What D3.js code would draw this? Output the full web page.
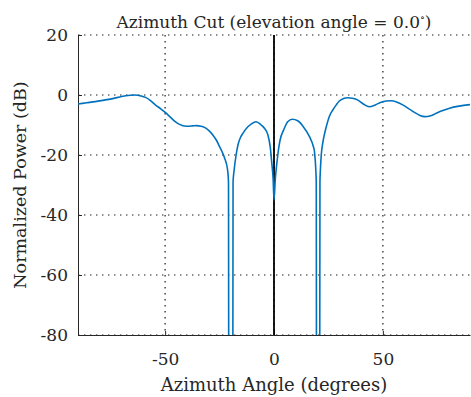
<!DOCTYPE html>
<html>
<head>
    <title>Azimuth Cut</title>
    <script src="https://cdnjs.cloudflare.com/ajax/libs/d3/7.8.5/d3.min.js"></script>
    <style>
        body {
            margin: 0;
            background: #fff;
        }

        text {
            font-family: "DejaVu Serif", serif;
            fill: #262626;
        }

        .grid line {
            stroke: #1a1a1a;
            stroke-width: 1.2px;
            stroke-dasharray: 1.4, 4.6;
        }

        .axis path,
        .axis line {
            stroke: #262626;
            stroke-width: 1px;
        }

        .pattern {
            fill: none;
            stroke: #0072BD;
            stroke-width: 1.6px;
        }
    </style>
</head>
<body>
<svg id="chart"></svg>

<script>
    // azimuth angle (deg) and normalized power (dB)
    const azimuth = [
        -90, -86, -82, -78, -74, -70, -66, -64, -61, -59,
        -57, -54.5, -52, -49.8, -48, -45.5, -43.4, -40.3, -37.5, -35.7,
        -33.5, -31.9, -30, -28.1, -26.5, -25, -23.8, -22.7, -21.3, -20.9,
        -20.7, -19.0, -18.8, -18.3, -17.4, -16.5, -15.3, -14.3, -12.0, -10.5,
        -8.2, -5.9, -4.4, -2.8, -1.7, -1.0, -0.4, 0, 0.6, 1.3,
        2.0, 2.8, 4.4, 6.3, 8.4, 10.9, 13.2, 16.3, 18.0, 18.6,
        19.2, 19.4, 19.6, 20.9, 21.1, 21.3, 21.7, 22.5, 23.2, 24,
        25.5, 27, 28.6, 30, 31.9, 33.9, 36, 38.5, 41, 43.8,
        46.5, 49.2, 51.5, 53.8, 56.5, 59.1, 62, 64.5, 67, 69.1,
        72, 74.5, 77.5, 80.6, 85, 90
    ];
    const powerDb = [
        -3.0, -2.6, -2.2, -1.7, -1.2, -0.5, -0.1, 0.0, -0.3, -0.8,
        -1.7, -3.3, -4.6, -5.9, -7.1, -8.8, -9.8, -10.4, -10.3, -10.2,
        -10.4, -10.8, -11.8, -13.3, -15.0, -17.2, -19.0, -21.0, -25, -29,
        -150, -150, -29, -25, -20, -16.5, -14, -12.8, -10.6, -9.7,
        -8.9, -10, -11.1, -13.3, -17.5, -22.8, -28, -35, -28, -22.8,
        -18.5, -15, -11.7, -8.9, -8.1, -8.6, -10.3, -13.9, -17, -19,
        -25, -29, -150, -150, -29, -25, -20, -15.5, -13.0, -10.6,
        -7.0, -5, -3.3, -2.0, -1.2, -0.9, -1.1, -1.7, -3.0, -3.9,
        -3.3, -2.4, -2.0, -1.9, -2.4, -3.3, -4.6, -5.8, -6.8, -7.2,
        -6.9, -6.1, -5.2, -4.4, -3.7, -3.2
    ];

    const xTicks = [-50, 0, 50];
    const yTicks = [20, 0, -20, -40, -60, -80];
    const xDomain = [-90, 90];
    const yDomain = [-80, 20];

    const width = 471;
    const height = 397;
    const margin = { top: 35, right: 1, bottom: 62, left: 78 };
    const innerW = width - margin.left - margin.right;
    const innerH = height - margin.top - margin.bottom;
    const fontFamily = '"DejaVu Serif", serif';

    const svg = d3.select("#chart")
        .attr("width", width)
        .attr("height", height);

    const g = svg.append("g")
        .attr("transform", `translate(${margin.left},${margin.top})`);

    const x = d3.scaleLinear().domain(xDomain).range([0, innerW]);
    const y = d3.scaleLinear().domain(yDomain).range([innerH, 0]);

    svg.append("defs").append("clipPath")
        .attr("id", "plot-clip")
        .append("rect")
        .attr("width", innerW)
        .attr("height", innerH);

    // dotted grid
    g.append("g")
        .attr("class", "grid")
        .selectAll("line")
        .data(xTicks)
        .join("line")
        .attr("x1", d => x(d))
        .attr("x2", d => x(d))
        .attr("y1", 0)
        .attr("y2", innerH);

    g.append("g")
        .attr("class", "grid")
        .selectAll("line")
        .data(yTicks)
        .join("line")
        .attr("x1", 0)
        .attr("x2", innerW)
        .attr("y1", d => y(d))
        .attr("y2", d => y(d));

    // axes, ticks pointing inwards like matlab
    g.append("g")
        .attr("class", "axis")
        .call(d3.axisLeft(y).tickValues(yTicks).tickSize(-4).tickPadding(10).tickSizeOuter(0))
        .attr("font-family", fontFamily)
        .attr("font-size", 17);

    g.append("g")
        .attr("class", "axis")
        .attr("transform", `translate(0,${innerH})`)
        .call(d3.axisBottom(x).tickValues(xTicks).tickSize(-4).tickPadding(18).tickSizeOuter(0))
        .attr("font-family", fontFamily)
        .attr("font-size", 17);

    // minus sign as plain hyphen
    g.selectAll(".axis text").text(d => String(d));

    // boresight marker
    g.append("line")
        .attr("x1", x(0))
        .attr("x2", x(0))
        .attr("y1", 0)
        .attr("y2", innerH)
        .attr("stroke", "#000")
        .attr("stroke-width", 1.8);

    const line = d3.line()
        .x((d, i) => x(azimuth[i]))
        .y(d => y(d))
        .curve(d3.curveMonotoneX);

    g.append("path")
        .datum(powerDb)
        .attr("class", "pattern")
        .attr("clip-path", "url(#plot-clip)")
        .attr("d", line);

    // labels
    const title = svg.append("text")
        .attr("x", margin.left + innerW / 2)
        .attr("y", 28)
        .attr("text-anchor", "middle")
        .style("font-size", "17px");
    title.append("tspan").text("Azimuth Cut (elevation angle = 0.0");
    title.append("tspan").attr("dy", -7).style("font-size", "10px").text("\u2218");
    title.append("tspan").attr("dy", 7).text(")");

    svg.append("text")
        .attr("x", margin.left + innerW / 2)
        .attr("y", 391)
        .attr("text-anchor", "middle")
        .style("font-size", "18px")
        .text("Azimuth Angle (degrees)");

    svg.append("text")
        .attr("transform", `translate(26,${margin.top + innerH / 2}) rotate(-90)`)
        .attr("text-anchor", "middle")
        .style("font-size", "17.5px")
        .text("Normalized Power (dB)");
</script>
</body>
</html>
